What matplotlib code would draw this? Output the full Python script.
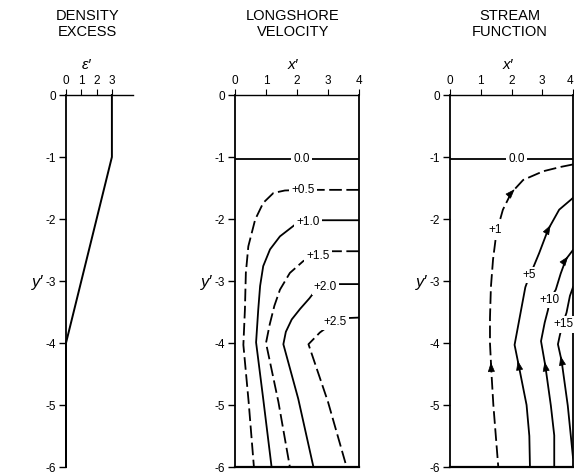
import numpy as np
import matplotlib
matplotlib.use('Agg')
import matplotlib.pyplot as plt

plt.rcParams['font.family'] = ['Liberation Sans', 'DejaVu Sans']
plt.rcParams['axes.unicode_minus'] = False

# ---- data ----
y_ticks = [0, -1, -2, -3, -4, -5, -6]

# density excess profile
eps_x = [3, 3, 0, 0]
eps_y = [0, -1, -4, -6]

# longshore velocity contours (x', y'), ordered from right edge downwards
vel_labels = ['0.0', '+0.5', '+1.0', '+1.5', '+2.0', '+2.5']
vel_dashed = [False, True, False, True, False, True]
vel_00 = [(0, -1.03), (4, -1.03)]
vel_05 = [(4, -1.53), (2.2, -1.53), (1.61, -1.54), (1.24, -1.58), (0.91, -1.74),
          (0.65, -2.01), (0.43, -2.44), (0.35, -2.87), (0.32, -3.46),
          (0.27, -4.03), (0.44, -4.95), (0.61, -6.0)]
vel_10 = [(4, -2.02), (2.6, -2.02), (2.36, -2.04), (1.94, -2.09), (1.45, -2.28),
          (1.13, -2.49), (0.91, -2.76), (0.81, -3.08), (0.75, -3.46),
          (0.68, -3.99), (0.91, -4.9), (1.18, -6.0)]
vel_15 = [(4, -2.52), (2.9, -2.52), (2.68, -2.56), (2.2, -2.68), (1.77, -2.87),
          (1.45, -3.14), (1.27, -3.4), (1.12, -3.7), (1.0, -4.0),
          (1.4, -4.95), (1.77, -6.0)]
vel_20 = [(4, -3.05), (3.15, -3.05), (2.9, -3.08), (2.6, -3.15), (2.4, -3.28),
          (2.1, -3.45), (1.83, -3.62), (1.64, -3.82), (1.56, -4.02),
          (2.04, -4.9), (2.53, -6.0)]
vel_25 = [(4, -3.59), (3.5, -3.6), (3.23, -3.65), (2.74, -3.83), (2.37, -4.02),
          (3.0, -4.95), (3.6, -6.0)]
vel_lines = [vel_00, vel_05, vel_10, vel_15, vel_20, vel_25]
vel_label_pos = [(2.15, -1.03), (2.2, -1.54), (2.36, -2.05), (2.68, -2.6),
                 (2.92, -3.1), (3.23, -3.66)]

# stream function contours
psi_labels = ['0.0', '+1', '+5', '+10', '+15']
psi_dashed = [False, True, False, False, False]
psi_00 = [(0, -1.03), (4, -1.03)]
psi_01 = [(4, -1.12), (3.6, -1.16), (3.03, -1.23), (2.38, -1.37), (1.99, -1.58),
          (1.72, -1.85), (1.51, -2.22), (1.40, -2.65), (1.33, -3.1),
          (1.30, -3.6), (1.30, -4.0), (1.35, -4.5), (1.41, -5.0), (1.57, -6.0)]
psi_05 = [(4, -1.66), (3.55, -1.85), (3.19, -2.17), (2.9, -2.55), (2.7, -2.79),
          (2.58, -2.92), (2.45, -3.1), (2.1, -4.03), (2.25, -4.4),
          (2.49, -5.0), (2.58, -5.5), (2.6, -6.0)]
psi_10 = [(4, -2.5), (3.77, -2.65), (3.6, -2.88), (3.44, -3.14), (3.23, -3.31),
          (3.19, -3.46), (3.08, -3.67), (2.96, -3.97), (3.1, -4.37),
          (3.28, -5.01), (3.39, -5.49), (3.39, -6.0)]
psi_15 = [(4, -3.1), (3.9, -3.24), (3.79, -3.51), (3.66, -3.7), (3.57, -3.88),
          (3.51, -4.02), (3.63, -4.29), (3.83, -5.01), (3.95, -5.6), (4.0, -5.85)]
psi_lines = [psi_00, psi_01, psi_05, psi_10, psi_15]
psi_label_pos = [(2.16, -1.03), (1.48, -2.17), (2.56, -2.9), (3.23, -3.31),
                 (3.68, -3.7)]
# arrows: (line index, segment index, fraction along segment)
psi_arrows = [(1, 3, 0.85), (1, 10, 0.74), (2, 1, 0.9), (2, 7, 0.84),
              (3, 0, 0.9), (3, 7, 0.97), (4, 5, 0.9)]


fig = plt.figure(figsize=(5.74, 4.73), dpi=100)
bot = 6 / 473
hgt = 372 / 473
ax1 = fig.add_axes([66 / 574, bot, 67 / 574, hgt])
ax2 = fig.add_axes([235 / 574, bot, 124 / 574, hgt])
ax3 = fig.add_axes([450 / 574, bot, 123 / 574, hgt])


def setup(ax, xmax, xticks, xname, xname_pos, title, title_pos, full_frame=True):
    ax.set_ylim(-6, 0)
    ax.set_xlim(0, xmax)
    ax.xaxis.tick_top()
    ax.set_xticks(xticks)
    ax.set_xticklabels([str(t) for t in xticks])
    ax.set_yticks(y_ticks)
    ax.set_yticklabels([str(t) if t == 0 else '-%d' % -t for t in y_ticks])
    ax.tick_params(axis='x', direction='out', length=4, width=0.8, pad=2,
                   labelsize=8.5, top=True, bottom=False)
    ax.tick_params(axis='y', direction='out', length=5, width=1, pad=2,
                   labelsize=8.5)
    ax.spines['top'].set_linestyle((0, (1, 1)))
    ax.spines['top'].set_linewidth(1.0)
    ax.spines['left'].set_linewidth(1.3)
    if full_frame:
        ax.spines['right'].set_linewidth(1.3)
        ax.spines['bottom'].set_linewidth(1.6)
    else:
        ax.spines['right'].set_visible(False)
        ax.spines['bottom'].set_visible(False)
    ax.annotate(xname, xy=(xname_pos, 1), xycoords=('data', 'axes fraction'),
                xytext=(0, 30), textcoords='offset pixels', ha='center',
                va='center', fontsize=11, style='italic')
    ax.annotate(title, xy=(title_pos, 1), xycoords=('data', 'axes fraction'),
                xytext=(0, 71), textcoords='offset pixels', ha='center',
                va='center', fontsize=10.5, linespacing=1.2)
    ax.annotate("y′", xy=(0, -3), xycoords=('axes fraction', 'data'),
                xytext=(-28, -2), textcoords='offset pixels', ha='center',
                va='center', fontsize=12, style='italic')


setup(ax1, 67 / 15.3, [0, 1, 2, 3], "ε′", 1.35, 'DENSITY\nEXCESS', 1.4,
      full_frame=False)
setup(ax2, 4, [0, 1, 2, 3, 4], "x′", 1.87, 'LONGSHORE\nVELOCITY', 1.87)
setup(ax3, 4, [0, 1, 2, 3, 4], "x′", 1.87, 'STREAM\nFUNCTION', 1.94)
# last tick label of the right panel sits against the picture edge
ax3.get_xticklabels()[-1].set_horizontalalignment('right')

# panel 1
ax1.plot(eps_x, eps_y, color='black', lw=1.4, clip_on=False)


def draw_contours(ax, lines, dashed, labels, label_pos):
    for pts, dsh, lab, pos in zip(lines, dashed, labels, label_pos):
        xs = [p[0] for p in pts]
        ys = [p[1] for p in pts]
        if dsh:
            ax.plot(xs, ys, color='black', lw=1.3, dashes=(7, 2.5),
                    solid_capstyle='butt')
        else:
            ax.plot(xs, ys, color='black', lw=1.3)
        ax.text(pos[0], pos[1], lab, ha='center', va='center', fontsize=8.5,
                bbox=dict(fc='white', ec='none', pad=1.5), zorder=5,
                clip_on=False)


draw_contours(ax2, vel_lines, vel_dashed, vel_labels, vel_label_pos)
draw_contours(ax3, psi_lines, psi_dashed, psi_labels, psi_label_pos)

# flow direction arrows on stream lines
for li, si, f in psi_arrows:
    a = np.array(psi_lines[li][si])
    b = np.array(psi_lines[li][si + 1])
    p = a + f * (b - a)
    d = (a - b) / np.hypot(*(a - b))
    ax3.annotate('', xy=(p[0] + 0.06 * d[0], p[1] + 0.06 * d[1]),
                 xytext=(p[0] - 0.06 * d[0], p[1] - 0.06 * d[1]),
                 arrowprops=dict(arrowstyle='-|>,head_length=0.6,head_width=0.22',
                                 color='black', lw=0.5, shrinkA=0, shrinkB=0))

fig.savefig('out.png', dpi=100)
